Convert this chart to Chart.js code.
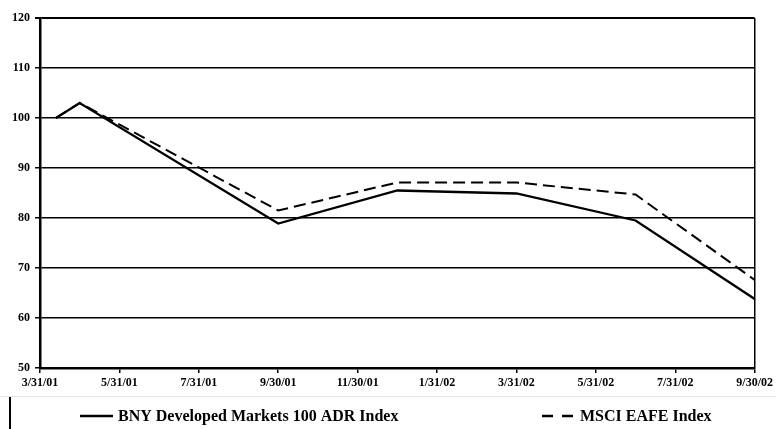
<!DOCTYPE html>
<html>
<head>
<meta charset="utf-8">
<script src="https://cdn.jsdelivr.net/npm/chart.js@4"></script>
<style>
html,body{margin:0;padding:0;background:#fff;}
#wrap{width:776px;height:429px;position:relative;}
</style>
</head>
<body>
<div id="wrap"><canvas id="c" width="776" height="429"></canvas></div>
<script>
// months after 3/31/01
const xMonths = [0.4, 1, 6, 9, 12, 15, 18];
const bnyValues = [100, 103, 78.9, 85.5, 84.9, 79.5, 63.8];
const msciValues = [100, 103, 81.5, 87.1, 87.1, 84.7, 67.6];
const xTickLabels = ['3/31/01','5/31/01','7/31/01','9/30/01','11/30/01','1/31/02','3/31/02','5/31/02','7/31/02','9/30/02'];
const seriesNames = ['BNY Developed Markets 100 ADR Index', 'MSCI EAFE Index'];

const toPts = (vals) => vals.map((v, i) => ({x: xMonths[i], y: v}));
const FONT = '"Liberation Serif", "Times New Roman", serif';

const legendPlugin = {
  id: 'customLegend',
  afterDraw(chart) {
    const ctx = chart.ctx;
    ctx.save();
    ctx.strokeStyle = '#e4e4e4';
    ctx.lineWidth = 1;
    ctx.beginPath(); ctx.moveTo(0, 396.5); ctx.lineTo(776, 396.5); ctx.stroke();
    ctx.strokeStyle = '#000';
    ctx.lineWidth = 2;
    ctx.beginPath(); ctx.moveTo(10, 397); ctx.lineTo(10, 429); ctx.stroke();

    const ly = 416;
    ctx.lineWidth = 2.5;
    ctx.setLineDash([]);
    ctx.beginPath(); ctx.moveTo(80, ly); ctx.lineTo(113, ly); ctx.stroke();
    ctx.setLineDash([11, 9]);
    ctx.beginPath(); ctx.moveTo(542, ly); ctx.lineTo(574, ly); ctx.stroke();
    ctx.setLineDash([]);
    ctx.fillStyle = '#000';
    ctx.font = 'bold 16px ' + FONT;
    ctx.textBaseline = 'middle';
    ctx.textAlign = 'left';
    ctx.fillText(chart.data.datasets[0].label, 118, ly + 0.5);
    ctx.fillText(chart.data.datasets[1].label, 580, ly + 0.5);
    ctx.restore();
  }
};

new Chart(document.getElementById('c'), {
  type: 'line',
  data: {
    datasets: [
      {label: seriesNames[0], data: toPts(bnyValues), borderColor: '#000', borderWidth: 2.3, pointRadius: 0, tension: 0, fill: false},
      {label: seriesNames[1], data: toPts(msciValues), borderColor: '#000', borderWidth: 2, borderDash: [12, 6], pointRadius: 0, tension: 0, fill: false}
    ]
  },
  options: {
    responsive: false,
    animation: false,
    devicePixelRatio: 1,
    layout: {padding: {left: 0, top: 18, right: 20, bottom: 0}},
    plugins: {legend: {display: false}, tooltip: {enabled: false}},
    scales: {
      x: {
        type: 'linear', min: 0, max: 18,
        afterFit(s) { s.height = 61; },
        ticks: {
          stepSize: 2, autoSkip: false, maxRotation: 0, padding: 3,
          color: '#000', font: {family: FONT, size: 12, weight: 'bold'},
          callback: (v) => xTickLabels[Math.round(v / 2)]
        },
        grid: {
          color: (c) => (c.tick && c.tick.value === 18) ? '#000' : 'rgba(0,0,0,0)',
          tickColor: '#000', tickLength: 5, lineWidth: 1.5, drawOnChartArea: true
        },
        border: {color: '#000', width: 2.5}
      },
      y: {
        min: 50, max: 120,
        afterFit(s) { s.width = 40; },
        ticks: {stepSize: 10, padding: 5, color: '#000', font: {family: FONT, size: 12, weight: 'bold'}},
        grid: {color: '#000', tickColor: '#000', tickLength: 5, lineWidth: (c) => (c.tick && c.tick.value === 120) ? 2 : 1.5},
        border: {color: '#000', width: 2.5}
      }
    }
  },
  plugins: [legendPlugin]
});
</script>
</body>
</html>
